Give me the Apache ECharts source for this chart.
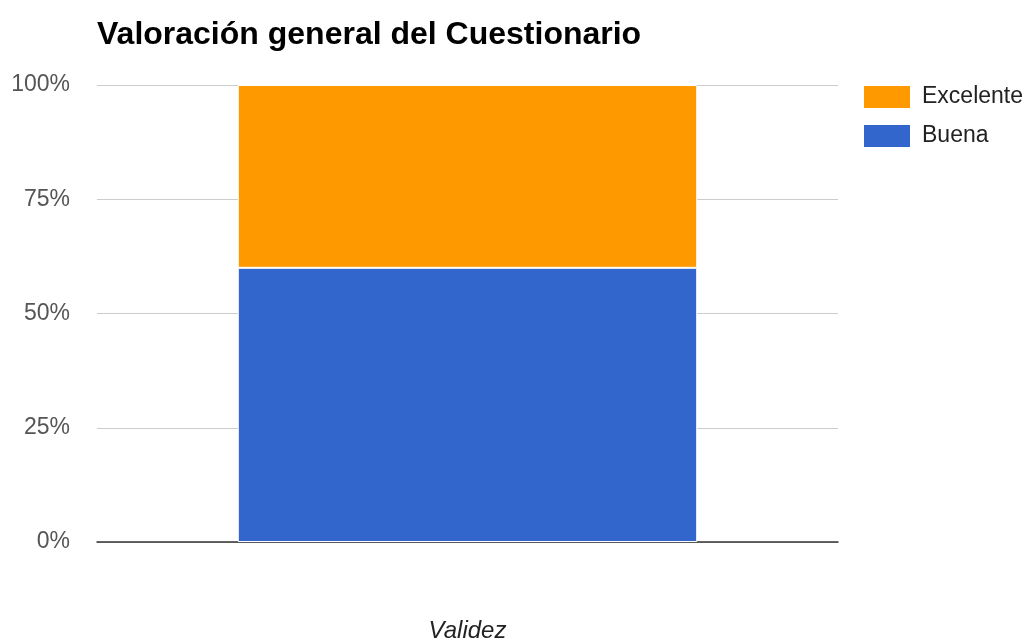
<!DOCTYPE html>
<html>
<head>
<meta charset="utf-8">
<script src="https://cdn.jsdelivr.net/npm/echarts@6/dist/echarts.min.js"></script>
<style>
  html, body { margin: 0; padding: 0; background: #fff; }
  #chart { width: 1028px; height: 641px; }
</style>
</head>
<body>
<div id="chart"></div>
<script>
// Stacked percentage bar: overall rating of the questionnaire
const categories = ['Validez'];
const buena = [60];
const excelente = [40];
const yTicks = [0, 25, 50, 75, 100];

const FONT = '"Liberation Sans", Arial, sans-serif';

const chart = echarts.init(document.getElementById('chart'));
chart.setOption({
  animation: false,
  textStyle: { fontFamily: FONT },
  title: {
    text: 'Valoración general del Cuestionario',
    left: 92,
    top: 14,
    textStyle: { fontFamily: FONT, fontSize: 32, fontWeight: 'bold', color: '#000' }
  },
  legend: {
    data: ['Excelente', 'Buena'],
    orient: 'vertical',
    left: 862,
    top: 84,
    padding: 0,
    itemWidth: 48,
    itemHeight: 24,
    itemGap: 13,
    icon: 'rect',
    textStyle: { fontFamily: FONT, fontSize: 23, color: '#222', padding: [0, 0, 0, 6] }
  },
  grid: { left: 97, right: 190, top: 85, bottom: 99, outerBoundsMode: 'none' },
  xAxis: {
    type: 'category',
    data: categories,
    name: categories[0],
    nameLocation: 'middle',
    nameGap: 77,
    nameTextStyle: { fontFamily: FONT, fontSize: 24, fontStyle: 'italic', color: '#222' },
    axisLabel: { show: false },
    axisTick: { show: false },
    axisLine: { lineStyle: { color: '#333', width: 1.5 } }
  },
  yAxis: {
    type: 'value',
    min: yTicks[0],
    max: yTicks[yTicks.length - 1],
    interval: 25,
    axisLabel: {
      formatter: '{value}%',
      fontFamily: FONT,
      fontSize: 23,
      color: '#555',
      margin: 27,
      padding: [0, 0, 6, 0]
    },
    axisLine: { show: false },
    axisTick: { show: false },
    splitLine: { lineStyle: { color: '#ccc', width: 1 } }
  },
  series: [
    {
      name: 'Buena',
      type: 'bar',
      stack: 'total',
      data: buena,
      barCategoryGap: '38%',
      itemStyle: { color: '#3366cc', borderColor: '#fff', borderWidth: 1 }
    },
    {
      name: 'Excelente',
      type: 'bar',
      stack: 'total',
      data: excelente,
      barCategoryGap: '38%',
      itemStyle: { color: '#ff9900', borderColor: '#fff', borderWidth: 1 }
    }
  ]
});
</script>
</body>
</html>
